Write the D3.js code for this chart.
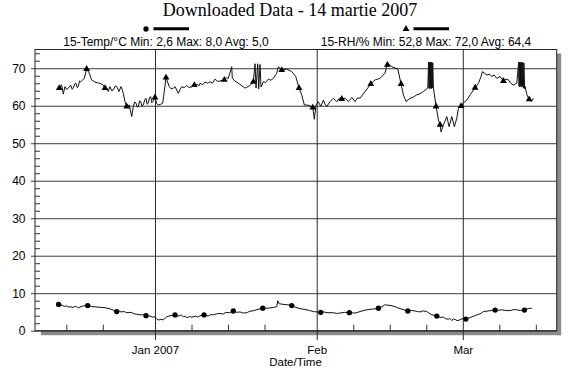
<!DOCTYPE html>
<html>
<head>
<meta charset="utf-8">
<script src="https://cdn.jsdelivr.net/npm/d3@7"></script>
<style>
  body { margin: 0; background: #fff; }
  svg { display: block; }
  text { font-family: "Liberation Sans", Arial, sans-serif; fill: #000; }
</style>
</head>
<body>
<svg id="chart" width="580" height="371"></svg>
<script>
const title = 'Downloaded Data - 14 martie 2007';
const seriesLabels = ['15-Temp/°C Min: 2,6 Max: 8,0 Avg: 5,0', '15-RH/% Min: 52,8 Max: 72,0 Avg: 64,4'];
const monthLabels = ['Jan 2007', 'Feb', 'Mar'];
const yTicks = [0, 10, 20, 30, 40, 50, 60, 70];
const minorDays = [8, 15, 22];
const dayRange = [-23, 77]; // days from 1 Jan 2007

// [day from 1 Jan 2007, value]
const temp = [
  [-18.85,7.3],[-18.47,7.0],[-17.83,6.8],[-17.4,6.5],[-16.93,6.6],[-16.5,6.3],[-16.3,6.4],[-15.72,6.2],
  [-15.3,6.5],[-15.01,6.4],[-14.7,6.1],[-14.38,6.3],[-13.75,6.6],[-12.9,6.7],[-11.89,6.4],[-10.55,6.25],
  [-9.4,6.1],[-8.6,5.8],[-8.0,5.5],[-7.34,5.1],[-6.9,5.3],[-6.52,5.0],[-5.9,5.1],[-5.43,4.8],
  [-4.6,4.9],[-4.0,4.5],[-3.51,4.4],[-2.68,4.2],[-2.2,4.3],[-1.73,4.0],[-0.96,3.9],[-0.4,3.6],
  [0,3.7],[0.3,3.2],[0.63,2.85],[1.1,3.0],[1.59,2.9],[2.24,3.7],[2.88,4.0],[3.84,4.2],
  [4.2,4.0],[4.6,3.9],[5.0,4.2],[5.43,3.7],[5.8,3.9],[6.14,3.4],[6.6,3.8],[7.04,3.6],
  [7.86,3.9],[8.2,3.6],[8.63,4.0],[9.4,4.2],[10.16,3.9],[10.7,4.3],[11.18,4.2],[11.8,4.5],
  [12.46,4.6],[13.0,4.4],[13.61,4.9],[14.3,4.8],[15.01,5.25],[15.6,4.9],[16.3,5.0],[17.0,4.7],
  [17.58,4.8],[18.2,5.2],[18.79,5.3],[19.75,5.7],[20.65,6.0],[21.67,6.0],[22.68,6.2],[23.34,6.4],
  [23.53,8.0],[23.78,7.2],[24.74,7.0],[25.5,6.9],[26.21,6.7],[27.04,6.2],[27.8,5.9],[28.95,5.6],
  [29.6,5.4],[30.35,5.1],[31.77,4.9],[32.4,5.0],[32.98,4.8],[34.19,4.8],[34.8,4.6],[35.47,4.7],
  [36.3,4.9],[37.26,4.8],[38.35,4.7],[39.31,5.1],[40.27,5.5],[41.23,5.7],[42.0,5.8],[42.82,6.0],
  [43.53,6.4],[44.0,6.9],[44.43,6.85],[45.25,6.7],[46.02,6.4],[47.17,5.8],[48.46,5.25],[49.1,5.4],
  [49.67,5.3],[50.3,5.1],[50.82,5.0],[51.4,5.3],[52.1,5.1],[52.92,4.3],[54.02,3.9],[54.84,3.5],
  [55.2,3.7],[55.61,3.3],[56.19,3.0],[56.5,3.3],[56.89,2.7],[57.2,3.1],[57.53,3.0],[57.9,2.7],
  [58.29,2.8],[58.9,3.2],[59.58,3.1],[60.59,3.6],[61.68,4.2],[62.32,4.5],[62.96,5.1],[64.05,5.3],
  [65.2,5.5],[65.8,5.4],[66.35,5.6],[67.11,5.4],[68.07,5.35],[68.6,5.6],[69.22,5.6],[69.99,5.4],
  [70.81,5.5],[71.52,5.9],[72.23,6.0]
];
const tempMarks = [
  [-18.47,7.0],[-12.9,6.7],[-7.34,5.1],[-1.73,4.0],[3.84,4.2],[9.4,4.2],[15.01,5.25],[20.65,6.0],
  [26.21,6.7],[31.77,4.9],[37.26,4.8],[42.82,6.0],[48.46,5.25],[54.02,3.9],[59.58,3.1],[65.2,5.5],[70.81,5.5]
];
const rh = [
  [-18.54,65.1],[-18.35,64.7],[-17.9,65.6],[-17.58,63.1],[-17.26,65.1],[-16.9,64.3],[-16.63,64.7],[-16.16,65.5],
  [-15.9,64.4],[-15.67,64.7],[-15.4,65.8],[-15.15,66.0],[-14.9,64.8],[-14.71,65.1],[-14.45,66.6],[-14.25,66.4],
  [-13.86,66.9],[-13.56,67.3],[-13.1,69.8],[-12.6,68.7],[-12.14,66.9],[-11.51,66.3],[-11.0,66.1],[-10.55,66.0],
  [-9.91,65.5],[-9.59,64.7],[-9.3,64.9],[-8.96,63.8],[-8.63,65.1],[-8.3,64.0],[-8.0,64.2],[-7.6,65.3],
  [-7.34,65.1],[-6.9,63.8],[-6.52,65.1],[-6.3,64.4],[-6.08,63.3],[-5.75,61.1],[-5.43,59.8],[-4.93,60.2],
  [-4.47,57.1],[-4.16,59.8],[-3.9,61.0],[-3.64,60.7],[-3.4,59.6],[-3.2,59.8],[-2.95,61.3],[-2.74,61.1],
  [-2.5,59.9],[-2.24,60.2],[-1.95,61.6],[-1.73,62.0],[-1.5,60.4],[-1.28,60.7],[-1.05,62.2],[-0.82,62.4],
  [-0.6,60.8],[-0.44,61.1],[0,62.2],[0.3,60.6],[0.63,60.2],[1.1,60.4],[1.48,60.7],[1.78,63.8],
  [2.11,67.5],[2.74,65.1],[3.1,64.5],[3.51,64.7],[3.84,65.1],[4.47,63.3],[4.8,64.3],[5.12,65.1],
  [5.6,64.8],[6.08,65.4],[6.5,64.9],[7.0,65.0],[7.54,65.5],[8.1,65.7],[8.4,65.3],[8.63,66.0],
  [9.1,65.6],[9.59,66.3],[10.1,66.0],[10.55,66.4],[11.0,66.0],[11.51,67.1],[12.0,66.5],[12.46,66.6],
  [13.29,66.9],[13.7,67.5],[14.06,67.3],[14.71,70.4],[14.82,67.3],[15.34,66.6],[16.3,65.7],[17.26,64.7],
  [18.22,65.4],[18.85,66.4],[19.18,71.2],[19.37,64.7],[19.69,71.2],[19.88,64.5],[20.13,71.0],[20.33,65.0],
  [20.77,66.4],[21.2,66.2],[21.73,67.1],[22.2,66.8],[22.68,67.3],[23.34,68.7],[23.64,70.4],[24.3,69.5],
  [25.25,69.8],[26.21,69.1],[26.98,67.8],[27.61,64.7],[28.13,62.9],[28.63,60.2],[29.09,60.2],[29.72,60.0],
  [30.24,59.5],[30.54,56.4],[30.87,60.2],[31.31,61.1],[31.77,59.8],[32.27,61.5],[32.6,60.4],[32.92,59.8],
  [33.56,61.1],[34.19,62.0],[34.84,61.1],[35.3,62.0],[35.8,61.8],[36.43,62.0],[37.07,61.1],[37.72,62.2],
  [38.35,61.1],[38.8,62.1],[39.31,62.0],[40.27,63.8],[41.36,65.8],[42.19,66.9],[43.14,67.3],[44.1,68.7],
  [44.54,71.3],[45.39,70.4],[46.54,69.8],[47.17,65.8],[47.61,62.9],[48.13,61.1],[48.9,62.0],[49.5,62.3],
  [50.18,62.9],[50.8,63.2],[51.45,63.8],[52.29,64.7],
  [52.44,71.6],[52.52,64.7],[52.6,71.6],[52.68,64.5],[52.76,71.6],[52.84,64.7],[52.92,71.6],[53.0,64.6],
  [53.08,71.6],[53.16,64.7],[53.24,71.4],[53.37,64.7],[53.88,59.8],[54.33,56.2],[54.65,54.9],[54.84,53.0],
  [55.29,54.9],[55.94,57.1],[56.38,54.4],[56.89,57.1],[57.39,54.4],[57.85,56.7],[58.16,59.3],[58.68,59.9],
  [59.12,60.7],[59.77,61.5],[60.4,62.9],[61.36,64.8],[61.99,66.0],[62.51,67.8],[62.76,69.1],[63.61,68.2],
  [64.1,68.4],[64.57,67.8],[65.0,68.2],[65.52,67.3],[66.16,67.8],[66.79,66.6],[67.3,67.1],[67.75,66.9],
  [68.2,66.0],[68.71,65.5],[69.36,66.0],
  [69.7,71.6],[69.78,65.2],[69.86,71.6],[69.94,65.0],[70.02,71.6],[70.1,65.3],[70.18,71.6],[70.26,65.0],
  [70.34,71.5],[70.42,65.2],[70.5,71.6],[70.6,64.7],[70.72,71.4],[70.85,64.5],[70.95,65.1],[71.29,62.9],
  [71.72,61.7],[72.11,61.1],[72.56,62.0]
];
const rhMarks = [
  [-18.35,64.7],[-13.1,69.8],[-9.59,64.7],[-5.43,59.8],[0,62.2],[2.11,67.5],[7.54,65.5],[13.29,66.9],
  [18.85,66.4],[24.3,69.5],[27.61,64.7],[30.24,59.5],[35.8,61.8],[41.36,65.8],[44.54,70.9],[47.17,65.8],
  [53.88,59.8],[54.65,54.9],[58.68,59.9],[61.36,64.8],[66.79,66.6],[71.72,61.7]
];

const day = d => new Date(Date.UTC(2007, 0, 1) + d * 864e5);

let margins = { top: 49.5, right: 23.3, bottom: 40.3, left: 35 },
  width = 580 - margins.left - margins.right,
  height = 371 - margins.top - margins.bottom,
  x = d3.scaleUtc().domain(dayRange.map(day)).range([0, width]),
  y = d3.scaleLinear().domain([0, 75]).range([height, 0]),
  triSize = 20,
  dotSize = 22;

const root = d3.select('#chart');

root.append('text')
  .attr('x', 290).attr('y', 16)
  .attr('text-anchor', 'middle')
  .style('font-family', '"Liberation Serif", "Times New Roman", serif')
  .style('font-size', '18px')
  .text(title);

// legend
const legend = [
  { cx: 166, sym: d3.symbolCircle, size: dotSize, label: seriesLabels[0] },
  { cx: 426, sym: d3.symbolTriangle, size: triSize, label: seriesLabels[1] }
];
legend.forEach(l => {
  root.append('path')
    .attr('d', d3.symbol(l.sym, l.size)())
    .attr('transform', `translate(${l.cx - 20},29)`)
    .attr('fill', '#000');
  root.append('line')
    .attr('x1', l.cx - 12.5).attr('x2', l.cx + 23)
    .attr('y1', 28.7).attr('y2', 28.7)
    .attr('stroke', '#000').attr('stroke-width', 3);
  root.append('text')
    .attr('x', l.cx).attr('y', 46)
    .attr('text-anchor', 'middle')
    .style('font-size', '12px')
    .text(l.label);
});

const svg = root.append('g')
  .attr('transform', 'translate(' + margins.left + ',' + margins.top + ')');

// drop shadow
svg.append('rect')
  .attr('x', 6).attr('y', height).attr('width', width - 2).attr('height', 4.5)
  .attr('fill', '#8a8a8a');
svg.append('rect')
  .attr('x', width).attr('y', 4).attr('width', 4.5).attr('height', height + 0.5)
  .attr('fill', '#8a8a8a');

// horizontal grid + y labels
svg.append('g')
  .attr('class', 'y axis')
  .attr('transform', 'translate(-4,0)')
  .call(d3.axisLeft(y).tickValues(yTicks).tickSize(-(width + 4)).tickPadding(5.5))
  .call(g => g.select('.domain').remove())
  .call(g => g.selectAll('line').attr('stroke', '#3a3a3a'))
  .call(g => g.selectAll('text').style('font-size', '12px').style('font-family', '"Liberation Sans", Arial, sans-serif'));

// minor y ticks
svg.append('g')
  .call(d3.axisLeft(y).tickValues(d3.range(2, 75, 2).filter(v => v % 10)).tickSize(-5).tickFormat(''))
  .call(g => g.select('.domain').remove())
  .call(g => g.selectAll('line').attr('stroke', '#333'));

// month lines + labels
const months = d3.utcMonth.range(x.domain()[0], x.domain()[1]);
svg.append('g')
  .attr('class', 'x axis')
  .attr('transform', 'translate(0,' + (height + 9.5) + ')')
  .call(d3.axisBottom(x).tickValues(months).tickSize(-(height + 9.5)).tickPadding(5.8)
    .tickFormat((d, i) => monthLabels[i]))
  .call(g => g.select('.domain').remove())
  .call(g => g.selectAll('line').attr('stroke', '#2a2a2a'))
  .call(g => g.selectAll('text').style('font-size', '11.5px').style('font-family', '"Liberation Sans", Arial, sans-serif'));

// weekly minor x ticks
const weeks = d3.utcDay.range(x.domain()[0], x.domain()[1]).filter(d => minorDays.includes(d.getUTCDate()));
svg.append('g')
  .attr('transform', 'translate(0,' + height + ')')
  .call(d3.axisBottom(x).tickValues(weeks).tickSize(-6).tickFormat(''))
  .call(g => g.select('.domain').remove())
  .call(g => g.selectAll('line').attr('stroke', '#333'));

// plot frame
svg.append('rect')
  .attr('width', width).attr('height', height)
  .attr('fill', 'none').attr('stroke', '#222').attr('stroke-width', 1);

const line = d3.line().x(d => x(day(d[0]))).y(d => y(d[1]));

svg.append('path').datum(rh)
  .attr('d', line).attr('fill', 'none').attr('stroke', '#111').attr('stroke-width', 1);
svg.append('path').datum(temp)
  .attr('d', line).attr('fill', 'none').attr('stroke', '#111').attr('stroke-width', 1);

svg.selectAll('.tri').data(rhMarks).enter().append('path')
  .attr('class', 'tri')
  .attr('d', d3.symbol(d3.symbolTriangle, triSize))
  .attr('transform', d => `translate(${x(day(d[0]))},${y(d[1])})`)
  .attr('fill', '#000');
svg.selectAll('.dot').data(tempMarks).enter().append('path')
  .attr('class', 'dot')
  .attr('d', d3.symbol(d3.symbolCircle, dotSize))
  .attr('transform', d => `translate(${x(day(d[0]))},${y(d[1])})`)
  .attr('fill', '#000');

root.append('text')
  .attr('x', 295.5).attr('y', 366)
  .attr('text-anchor', 'middle')
  .style('font-size', '11.5px')
  .text('Date/Time');
</script>
</body>
</html>
